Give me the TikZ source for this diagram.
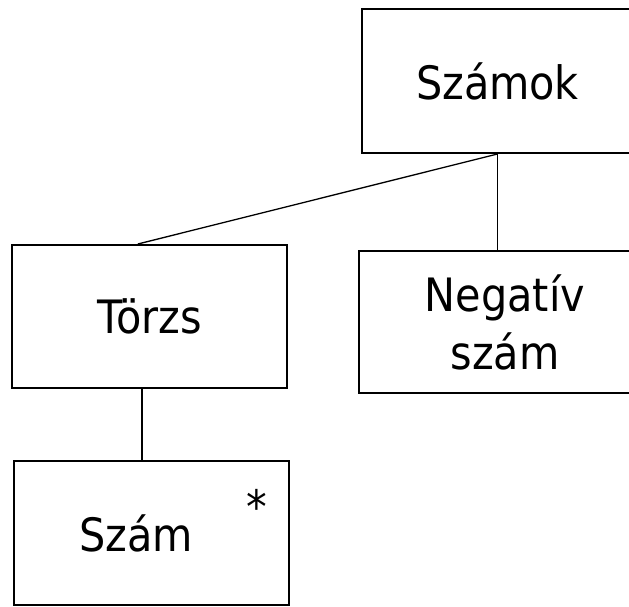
\documentclass[tikz,border=0pt]{standalone}
\usepackage{fontspec}
\setmainfont{DejaVu Sans Condensed}
\usetikzlibrary{calc}
\tikzset{
    box/.style={draw=black,line width=2pt,minimum width=275pt,minimum height=144pt,inner sep=0pt},
    boxtext/.style={font=\fontsize{46}{58}\selectfont,align=center},
    link/.style={black,line width=1.3pt}
}
\begin{document}
\begin{tikzpicture}[x=1pt,y=1pt]
\clip (0,0) rectangle (629,606);
\node[box,boxtext,minimum width=271pt] (szamok) at (497.5,525) {Számok};
\node[box,boxtext,minimum width=292pt,minimum height=142pt] (negativ) at (505,284) {Negatív\\szám};
\node[box,boxtext,minimum height=143pt] (torzs) at (149.5,289.5) {Törzs};
\node[box] (szam) at (151.5,73) {};
\node[boxtext] (szamtext) at (136,73) {Szám};
\node[boxtext] (star) at (257,100) {*};
\coordinate (torzsin) at ($(torzs.north west)!0.458!(torzs.north east)$);
\coordinate (torzsout) at ($(torzs.south west)!0.473!(torzs.south east)$);
\draw[link] (szamok.south)--(torzsin);
\draw[link] (szamok.south)--(szamok.south |- negativ.north);
\draw[link] (torzsout)--(torzsout |- szam.north);
\end{tikzpicture}
\end{document}
